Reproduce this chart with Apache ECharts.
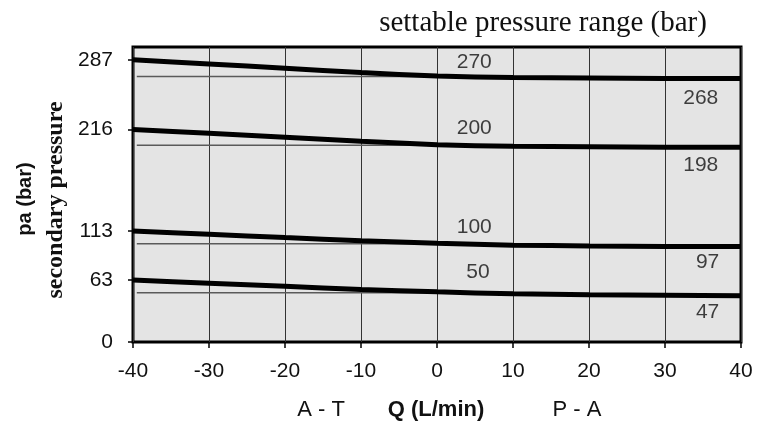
<!DOCTYPE html>
<html>
<head>
<meta charset="utf-8">
<script src="https://cdn.jsdelivr.net/npm/echarts@6/dist/echarts.min.js"></script>
<style>
    html, body { margin: 0; padding: 0; background: #fff; }
    #chart { width: 760px; height: 423px; }
</style>
</head>
<body>
<div id="chart"></div>
<script>
// Q (L/min) 取样点
const flow = [-40, -30, -20, -10, 0, 10, 20, 30, 40];
// 各设定压力下的二次压力曲线 (bar)
const p270 = [287, 282.8, 278.4, 274, 270.4, 269, 268.5, 268, 268];
const p200 = [216, 212.2, 208.2, 204.2, 200.6, 199, 198.5, 198, 198];
const p100 = [113, 109.6, 106.2, 103, 100.4, 98.5, 97.7, 97.2, 97];
const p50 = [63, 59.8, 56.6, 53.5, 51, 49, 48, 47.5, 47];
// 设定压力细线
const setLevels = [270, 200, 100, 50];
const setFrom = -39.5, setTo = 0;
// y 轴刻度
const yTicks = [0, 63, 113, 216, 287];
// 曲线标注 [x, y, 文本]
const curveLabels = [
    [4.9, 285, '270'], [34.7, 248, '268'],
    [4.9, 217, '200'], [34.7, 179.5, '198'],
    [4.9, 117, '100'], [35.6, 81, '97'],
    [5.4, 71, '50'], [35.6, 30.5, '47']
];

window.addEventListener('load', function() {
    let myChart = echarts.init(document.getElementById('chart'));
    let font = 'Liberation Sans, Arial, sans-serif';
    let serif = 'Liberation Serif, Times New Roman, serif';

    function curve(vals) {
        return {
            type: 'line',
            smooth: 0.2,
            symbol: 'none',
            z: 5,
            lineStyle: { color: '#000', width: 5 },
            data: flow.map(function(x, i) { return [x, vals[i]]; })
        };
    }

    let series = [];
    setLevels.forEach(function(v) {
        series.push({
            type: 'line',
            symbol: 'none',
            z: 3,
            lineStyle: { color: '#5a5a5a', width: 1.5 },
            data: [[setFrom, v], [setTo, v]]
        });
    });
    [p270, p200, p100, p50].forEach(function(vals) {
        series.push(curve(vals));
    });
    series.push({
        type: 'scatter',
        symbolSize: 0,
        z: 6,
        label: {
            show: true,
            position: 'inside',
            color: '#111',
            fontFamily: font,
            fontSize: 21,
            formatter: function(p) { return p.data[2]; }
        },
        data: curveLabels
    });

    let option = {
        animation: false,
        grid: {
            left: 133,
            right: 19,
            top: 47,
            bottom: 81,
            show: true,
            backgroundColor: '#e4e4e4',
            borderColor: '#000',
            borderWidth: 3
        },
        xAxis: {
            type: 'value',
            min: -40,
            max: 40,
            interval: 10,
            axisLine: { show: false, onZero: false },
            axisTick: { show: true, length: 6, lineStyle: { color: '#000', width: 1.5 } },
            axisLabel: { color: '#111', fontFamily: font, fontSize: 21, margin: 19 },
            splitLine: { show: true, lineStyle: { color: '#333', width: 1 } }
        },
        yAxis: {
            type: 'value',
            min: 0,
            max: 300,
            axisLine: { show: false, onZero: false },
            axisTick: {
                show: true, length: 5, customValues: yTicks,
                lineStyle: { color: '#000', width: 1.5 }
            },
            axisLabel: {
                customValues: yTicks,
                color: '#111', fontFamily: font, fontSize: 21, margin: 20
            },
            splitLine: { show: false }
        },
        graphic: [
            {
                type: 'text', x: 543, y: 23,
                style: { text: 'settable pressure range (bar)', font: '29px ' + serif, fill: '#111', align: 'center', verticalAlign: 'middle' }
            },
            {
                type: 'text', x: 25, y: 199, rotation: Math.PI / 2,
                style: { text: 'pa (bar)', font: 'bold 20px ' + font, fill: '#111', align: 'center', verticalAlign: 'middle' }
            },
            {
                type: 'text', x: 56, y: 200, rotation: Math.PI / 2,
                style: { text: 'secondary pressure', font: 'bold 24px ' + serif, fill: '#111', align: 'center', verticalAlign: 'middle' }
            },
            {
                type: 'text', x: 321, y: 410,
                style: { text: 'A - T', font: '22px ' + font, fill: '#111', align: 'center', verticalAlign: 'middle' }
            },
            {
                type: 'text', x: 436, y: 410,
                style: { text: 'Q (L/min)', font: 'bold 22px ' + font, fill: '#111', align: 'center', verticalAlign: 'middle' }
            },
            {
                type: 'text', x: 577, y: 410,
                style: { text: 'P - A', font: '22px ' + font, fill: '#111', align: 'center', verticalAlign: 'middle' }
            }
        ],
        series: series
    };
    myChart.setOption(option);
});
</script>
</body>
</html>
